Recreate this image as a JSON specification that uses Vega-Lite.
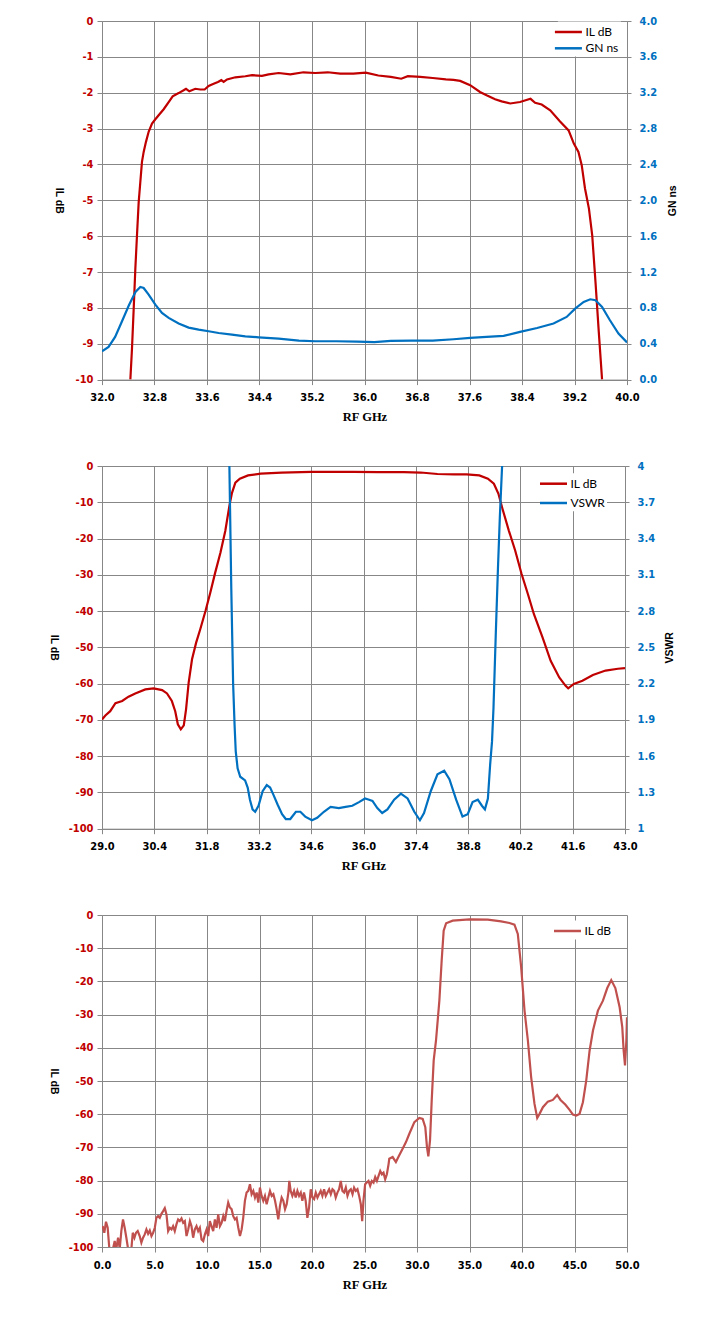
{
  "$schema": "https://vega.github.io/schema/vega-lite/v6.json",
  "background": "white",
  "padding": {"left": 47, "top": 15, "right": 5, "bottom": 5},
  "config": {
    "view": {"stroke": null},
    "locale": {"number": {"decimal": ".", "thousands": ",", "grouping": [3], "currency": ["$", ""], "minus": "-"}},
    "axis": {
      "gridColor": "#878787", "gridWidth": 1, "domainColor": "#878787", "tickColor": "#878787", "tickSize": 5,
      "labelFont": "DejaVu Sans Condensed", "labelFontWeight": "bold", "labelFontSize": 11,
      "titleFont": "Liberation Sans", "titleFontWeight": "bold", "titleFontSize": 10.5, "titleColor": "black"
    },
    "axisX": {"labelColor": "black", "labelPadding": 7, "labelFlush": false, "labelOverlap": false,
      "titleFont": "Liberation Serif", "titleFontSize": 12.5, "titleBaseline": "middle", "titleY": 37},
    "axisLeft": {"labelColor": "#C00000", "labelPadding": 4, "titleAngle": 90, "titleBaseline": "middle", "titleAlign": "center"},
    "axisRight": {"labelColor": "#0070C0", "labelPadding": 8, "tickSize": 4, "grid": false, "titleAngle": 270, "titleBaseline": "middle", "titleAlign": "center"},
    "legend": {
      "orient": "none", "title": null, "fillColor": "white", "padding": 2,
      "symbolType": "M-1.93,0H1.93", "symbolSize": 196, "symbolStrokeWidth": 2.5,
      "labelFont": "Lato", "labelFontSize": 12, "labelColor": "black", "labelOffset": 8.5
    }
  },
  "datasets": {
    "il1": [
      {"f": 32.432, "v": -10}, {"f": 32.457, "v": -9.14}, {"f": 32.483, "v": -8.02}, {"f": 32.508, "v": -6.91},
      {"f": 32.533, "v": -5.98}, {"f": 32.559, "v": -5.05}, {"f": 32.584, "v": -4.49}, {"f": 32.609, "v": -3.93},
      {"f": 32.635, "v": -3.65}, {"f": 32.67, "v": -3.37}, {"f": 32.711, "v": -3.09}, {"f": 32.762, "v": -2.86},
      {"f": 32.813, "v": -2.74}, {"f": 32.863, "v": -2.63}, {"f": 32.94, "v": -2.46}, {"f": 33.016, "v": -2.26},
      {"f": 33.077, "v": -2.1}, {"f": 33.168, "v": -2.01}, {"f": 33.244, "v": -1.93}, {"f": 33.28, "v": -1.89},
      {"f": 33.331, "v": -1.96}, {"f": 33.422, "v": -1.89}, {"f": 33.498, "v": -1.91}, {"f": 33.564, "v": -1.91},
      {"f": 33.625, "v": -1.81}, {"f": 33.701, "v": -1.75}, {"f": 33.767, "v": -1.7}, {"f": 33.818, "v": -1.65},
      {"f": 33.854, "v": -1.7}, {"f": 33.905, "v": -1.63}, {"f": 34.032, "v": -1.57}, {"f": 34.184, "v": -1.54},
      {"f": 34.286, "v": -1.51}, {"f": 34.438, "v": -1.53}, {"f": 34.539, "v": -1.49}, {"f": 34.692, "v": -1.45},
      {"f": 34.87, "v": -1.49}, {"f": 35.07, "v": -1.43}, {"f": 35.25, "v": -1.45}, {"f": 35.44, "v": -1.43},
      {"f": 35.63, "v": -1.47}, {"f": 35.83, "v": -1.47}, {"f": 36.02, "v": -1.44}, {"f": 36.21, "v": -1.52},
      {"f": 36.4, "v": -1.56}, {"f": 36.56, "v": -1.61}, {"f": 36.66, "v": -1.54}, {"f": 36.85, "v": -1.56},
      {"f": 37.04, "v": -1.59}, {"f": 37.24, "v": -1.63}, {"f": 37.356, "v": -1.64}, {"f": 37.458, "v": -1.67},
      {"f": 37.61, "v": -1.79}, {"f": 37.76, "v": -1.98}, {"f": 37.86, "v": -2.07}, {"f": 37.99, "v": -2.18},
      {"f": 38.09, "v": -2.24}, {"f": 38.22, "v": -2.3}, {"f": 38.37, "v": -2.26}, {"f": 38.53, "v": -2.17},
      {"f": 38.6, "v": -2.28}, {"f": 38.7, "v": -2.33}, {"f": 38.83, "v": -2.49}, {"f": 38.98, "v": -2.8},
      {"f": 39.11, "v": -3.05}, {"f": 39.19, "v": -3.42}, {"f": 39.26, "v": -3.65}, {"f": 39.31, "v": -4.02},
      {"f": 39.36, "v": -4.67}, {"f": 39.42, "v": -5.23}, {"f": 39.47, "v": -5.98}, {"f": 39.52, "v": -7.28},
      {"f": 39.57, "v": -8.67}, {"f": 39.62, "v": -10}
    ],
    "gn1": [
      {"f": 32.0, "v": 0.316}, {"f": 32.1, "v": 0.364}, {"f": 32.2, "v": 0.476}, {"f": 32.3, "v": 0.643},
      {"f": 32.41, "v": 0.829}, {"f": 32.51, "v": 0.978}, {"f": 32.584, "v": 1.033}, {"f": 32.635, "v": 1.022},
      {"f": 32.711, "v": 0.948}, {"f": 32.813, "v": 0.836}, {"f": 32.914, "v": 0.743}, {"f": 33.016, "v": 0.688},
      {"f": 33.168, "v": 0.625}, {"f": 33.32, "v": 0.58}, {"f": 33.473, "v": 0.558}, {"f": 33.625, "v": 0.539},
      {"f": 33.777, "v": 0.52}, {"f": 33.98, "v": 0.502}, {"f": 34.184, "v": 0.483}, {"f": 34.387, "v": 0.472},
      {"f": 34.692, "v": 0.457}, {"f": 35.0, "v": 0.435}, {"f": 35.25, "v": 0.428}, {"f": 35.57, "v": 0.428},
      {"f": 35.89, "v": 0.424}, {"f": 36.15, "v": 0.417}, {"f": 36.4, "v": 0.432}, {"f": 36.72, "v": 0.435},
      {"f": 37.04, "v": 0.435}, {"f": 37.356, "v": 0.45}, {"f": 37.61, "v": 0.465}, {"f": 37.86, "v": 0.476},
      {"f": 38.12, "v": 0.487}, {"f": 38.37, "v": 0.532}, {"f": 38.63, "v": 0.576}, {"f": 38.88, "v": 0.625},
      {"f": 39.08, "v": 0.699}, {"f": 39.21, "v": 0.792}, {"f": 39.34, "v": 0.866}, {"f": 39.44, "v": 0.896},
      {"f": 39.52, "v": 0.885}, {"f": 39.62, "v": 0.81}, {"f": 39.74, "v": 0.662}, {"f": 39.87, "v": 0.513},
      {"f": 40.0, "v": 0.415}
    ],
    "il2": [
      {"f": 29.0, "v": -69.9}, {"f": 29.09, "v": -68.8}, {"f": 29.22, "v": -67.6}, {"f": 29.36, "v": -65.4},
      {"f": 29.54, "v": -64.8}, {"f": 29.71, "v": -63.6}, {"f": 29.89, "v": -62.7}, {"f": 30.16, "v": -61.6},
      {"f": 30.38, "v": -61.3}, {"f": 30.61, "v": -61.8}, {"f": 30.74, "v": -62.7}, {"f": 30.87, "v": -64.8},
      {"f": 30.96, "v": -67.6}, {"f": 31.03, "v": -71.2}, {"f": 31.11, "v": -72.6}, {"f": 31.19, "v": -71.5},
      {"f": 31.25, "v": -67.1}, {"f": 31.32, "v": -59.7}, {"f": 31.41, "v": -53.3}, {"f": 31.52, "v": -48.7},
      {"f": 31.63, "v": -45.0}, {"f": 31.77, "v": -40.0}, {"f": 31.9, "v": -34.9}, {"f": 32.03, "v": -29.4},
      {"f": 32.17, "v": -23.9}, {"f": 32.3, "v": -17.9}, {"f": 32.41, "v": -11.0}, {"f": 32.48, "v": -7.4},
      {"f": 32.57, "v": -4.6}, {"f": 32.69, "v": -3.5}, {"f": 32.91, "v": -2.6}, {"f": 33.25, "v": -2.1},
      {"f": 33.81, "v": -1.8}, {"f": 34.6, "v": -1.6}, {"f": 35.73, "v": -1.6}, {"f": 36.4, "v": -1.7},
      {"f": 37.08, "v": -1.7}, {"f": 37.53, "v": -1.8}, {"f": 37.98, "v": -2.2}, {"f": 38.43, "v": -2.3},
      {"f": 38.76, "v": -2.3}, {"f": 39.1, "v": -2.6}, {"f": 39.33, "v": -3.5}, {"f": 39.49, "v": -4.9},
      {"f": 39.61, "v": -7.6}, {"f": 39.72, "v": -11.8}, {"f": 39.89, "v": -17.8}, {"f": 40.06, "v": -23.3},
      {"f": 40.23, "v": -29.7}, {"f": 40.4, "v": -35.3}, {"f": 40.56, "v": -40.8}, {"f": 40.79, "v": -47.2},
      {"f": 41.01, "v": -53.7}, {"f": 41.24, "v": -58.3}, {"f": 41.41, "v": -60.6}, {"f": 41.48, "v": -61.3},
      {"f": 41.63, "v": -60.1}, {"f": 41.86, "v": -59.2}, {"f": 42.14, "v": -57.6}, {"f": 42.48, "v": -56.4},
      {"f": 42.81, "v": -55.9}, {"f": 43.0, "v": -55.7}
    ],
    "vswr2": [
      {"f": 32.38, "v": 4.3}, {"f": 32.41, "v": 4.0}, {"f": 32.46, "v": 3.0}, {"f": 32.51, "v": 2.2},
      {"f": 32.55, "v": 1.85}, {"f": 32.58, "v": 1.64}, {"f": 32.63, "v": 1.5}, {"f": 32.7, "v": 1.43},
      {"f": 32.83, "v": 1.4}, {"f": 32.9, "v": 1.34}, {"f": 32.96, "v": 1.24}, {"f": 33.03, "v": 1.16},
      {"f": 33.1, "v": 1.14}, {"f": 33.19, "v": 1.19}, {"f": 33.3, "v": 1.31}, {"f": 33.41, "v": 1.36},
      {"f": 33.5, "v": 1.34}, {"f": 33.59, "v": 1.28}, {"f": 33.7, "v": 1.2}, {"f": 33.82, "v": 1.12},
      {"f": 33.92, "v": 1.08}, {"f": 34.04, "v": 1.08}, {"f": 34.19, "v": 1.14}, {"f": 34.31, "v": 1.14},
      {"f": 34.44, "v": 1.1}, {"f": 34.62, "v": 1.07}, {"f": 34.76, "v": 1.09}, {"f": 34.94, "v": 1.14},
      {"f": 35.12, "v": 1.18}, {"f": 35.34, "v": 1.17}, {"f": 35.52, "v": 1.18}, {"f": 35.7, "v": 1.19},
      {"f": 35.88, "v": 1.22}, {"f": 36.04, "v": 1.25}, {"f": 36.15, "v": 1.24}, {"f": 36.24, "v": 1.23},
      {"f": 36.37, "v": 1.17}, {"f": 36.5, "v": 1.13}, {"f": 36.64, "v": 1.16}, {"f": 36.82, "v": 1.24},
      {"f": 37.0, "v": 1.29}, {"f": 37.18, "v": 1.25}, {"f": 37.36, "v": 1.14}, {"f": 37.51, "v": 1.07},
      {"f": 37.62, "v": 1.13}, {"f": 37.8, "v": 1.31}, {"f": 37.98, "v": 1.45}, {"f": 38.16, "v": 1.48},
      {"f": 38.3, "v": 1.41}, {"f": 38.48, "v": 1.24}, {"f": 38.65, "v": 1.1}, {"f": 38.79, "v": 1.12},
      {"f": 38.92, "v": 1.22}, {"f": 39.06, "v": 1.24}, {"f": 39.17, "v": 1.19}, {"f": 39.25, "v": 1.16},
      {"f": 39.33, "v": 1.25}, {"f": 39.39, "v": 1.53}, {"f": 39.44, "v": 1.72}, {"f": 39.48, "v": 2.0},
      {"f": 39.54, "v": 2.6}, {"f": 39.6, "v": 3.16}, {"f": 39.65, "v": 3.58}, {"f": 39.71, "v": 4.0},
      {"f": 39.75, "v": 4.3}
    ],
    "il3": [
      {"f": 0.06, "v": -93.7}, {"f": 0.22, "v": -95.7}, {"f": 0.38, "v": -92.4}, {"f": 0.54, "v": -94.2},
      {"f": 0.7, "v": -100.5}, {"f": 0.89, "v": -101}, {"f": 1.05, "v": -100.5}, {"f": 1.21, "v": -98.2},
      {"f": 1.34, "v": -101}, {"f": 1.53, "v": -97.2}, {"f": 1.69, "v": -100.5}, {"f": 1.84, "v": -95.2},
      {"f": 2.0, "v": -91.7}, {"f": 2.16, "v": -94.2}, {"f": 2.32, "v": -97.2}, {"f": 2.48, "v": -100.5},
      {"f": 2.64, "v": -101}, {"f": 2.8, "v": -100.5}, {"f": 2.93, "v": -95.7}, {"f": 3.09, "v": -97.2},
      {"f": 3.24, "v": -95.7}, {"f": 3.4, "v": -95.2}, {"f": 3.59, "v": -96.7}, {"f": 3.75, "v": -98.7},
      {"f": 3.91, "v": -97.2}, {"f": 4.07, "v": -96.2}, {"f": 4.23, "v": -94.7}, {"f": 4.39, "v": -96},
      {"f": 4.55, "v": -95}, {"f": 4.71, "v": -96.7}, {"f": 4.87, "v": -95.7}, {"f": 5.03, "v": -94.2},
      {"f": 5.18, "v": -91.2}, {"f": 5.34, "v": -90.7}, {"f": 5.5, "v": -91.2}, {"f": 5.66, "v": -90},
      {"f": 5.82, "v": -89.2}, {"f": 5.98, "v": -88.3}, {"f": 6.14, "v": -90.2}, {"f": 6.3, "v": -95.2},
      {"f": 6.46, "v": -94.2}, {"f": 6.62, "v": -94.7}, {"f": 6.77, "v": -93.7}, {"f": 6.93, "v": -95.2},
      {"f": 7.09, "v": -93.2}, {"f": 7.25, "v": -91.7}, {"f": 7.41, "v": -92.2}, {"f": 7.57, "v": -91.4},
      {"f": 7.73, "v": -92.7}, {"f": 7.89, "v": -92.2}, {"f": 8.05, "v": -96.7}, {"f": 8.21, "v": -94.7},
      {"f": 8.37, "v": -92.2}, {"f": 8.52, "v": -93.7}, {"f": 8.68, "v": -97.2}, {"f": 8.84, "v": -94.7},
      {"f": 9.0, "v": -93.7}, {"f": 9.16, "v": -95.2}, {"f": 9.32, "v": -94.2}, {"f": 9.48, "v": -97.7},
      {"f": 9.64, "v": -98.2}, {"f": 9.8, "v": -96.2}, {"f": 9.96, "v": -94.7}, {"f": 10.11, "v": -96.7},
      {"f": 10.27, "v": -92.2}, {"f": 10.43, "v": -93.7}, {"f": 10.59, "v": -95.2}, {"f": 10.75, "v": -91.7},
      {"f": 10.91, "v": -94.2}, {"f": 11.07, "v": -90.2}, {"f": 11.23, "v": -93.7}, {"f": 11.39, "v": -92.7},
      {"f": 11.55, "v": -90.7}, {"f": 11.7, "v": -92.2}, {"f": 11.86, "v": -89.2}, {"f": 12.02, "v": -86.6},
      {"f": 12.18, "v": -88.1}, {"f": 12.34, "v": -88.6}, {"f": 12.5, "v": -90.7}, {"f": 12.66, "v": -91.7},
      {"f": 12.82, "v": -91.2}, {"f": 12.98, "v": -94.2}, {"f": 13.14, "v": -96.7}, {"f": 13.3, "v": -94.7},
      {"f": 13.45, "v": -91.2}, {"f": 13.61, "v": -86.1}, {"f": 13.77, "v": -83.6}, {"f": 13.93, "v": -83.1},
      {"f": 14.09, "v": -81.1}, {"f": 14.25, "v": -84.1}, {"f": 14.41, "v": -83.1}, {"f": 14.57, "v": -85.1},
      {"f": 14.73, "v": -83.6}, {"f": 14.89, "v": -86.6}, {"f": 15.04, "v": -82.1}, {"f": 15.2, "v": -84.6},
      {"f": 15.36, "v": -86.1}, {"f": 15.52, "v": -84.6}, {"f": 15.68, "v": -87.1}, {"f": 15.84, "v": -85.1},
      {"f": 16.0, "v": -83.1}, {"f": 16.16, "v": -84.6}, {"f": 16.32, "v": -84.1}, {"f": 16.48, "v": -86.1},
      {"f": 16.63, "v": -88.6}, {"f": 16.79, "v": -91.7}, {"f": 16.95, "v": -87.6}, {"f": 17.11, "v": -85.1},
      {"f": 17.27, "v": -86.1}, {"f": 17.43, "v": -88.6}, {"f": 17.59, "v": -87.1}, {"f": 17.75, "v": -83.6},
      {"f": 17.84, "v": -80.1}, {"f": 17.97, "v": -83.1}, {"f": 18.13, "v": -84.6}, {"f": 18.29, "v": -83.1},
      {"f": 18.45, "v": -85.1}, {"f": 18.61, "v": -83.1}, {"f": 18.77, "v": -84.6}, {"f": 18.93, "v": -83.6},
      {"f": 19.08, "v": -86.1}, {"f": 19.24, "v": -83.6}, {"f": 19.4, "v": -86.1}, {"f": 19.56, "v": -91.2},
      {"f": 19.72, "v": -88.1}, {"f": 19.88, "v": -82.6}, {"f": 20.04, "v": -85.1}, {"f": 20.2, "v": -85.6},
      {"f": 20.36, "v": -83.6}, {"f": 20.52, "v": -85.1}, {"f": 20.67, "v": -84.1}, {"f": 20.83, "v": -83.1},
      {"f": 20.99, "v": -84.6}, {"f": 21.15, "v": -82.6}, {"f": 21.31, "v": -84.6}, {"f": 21.47, "v": -83.6},
      {"f": 21.63, "v": -82.6}, {"f": 21.79, "v": -84.1}, {"f": 21.95, "v": -82.6}, {"f": 22.11, "v": -83.1},
      {"f": 22.26, "v": -85.1}, {"f": 22.42, "v": -83.6}, {"f": 22.58, "v": -82.6}, {"f": 22.74, "v": -80.1},
      {"f": 22.9, "v": -83.1}, {"f": 23.06, "v": -83.6}, {"f": 23.22, "v": -82.1}, {"f": 23.38, "v": -84.6},
      {"f": 23.54, "v": -83.1}, {"f": 23.7, "v": -82.6}, {"f": 23.86, "v": -84.1}, {"f": 24.01, "v": -82.1},
      {"f": 24.17, "v": -83.1}, {"f": 24.33, "v": -82.6}, {"f": 24.49, "v": -84.6}, {"f": 24.65, "v": -87.1},
      {"f": 24.78, "v": -92.2}, {"f": 24.9, "v": -86.1}, {"f": 25.06, "v": -81.1}, {"f": 25.22, "v": -80.6},
      {"f": 25.38, "v": -80.1}, {"f": 25.54, "v": -81.6}, {"f": 25.7, "v": -80.1}, {"f": 25.86, "v": -80.6},
      {"f": 26.02, "v": -78.9}, {"f": 26.18, "v": -80.1}, {"f": 26.34, "v": -78.6}, {"f": 26.5, "v": -77.1},
      {"f": 26.66, "v": -78.1}, {"f": 26.81, "v": -77.6}, {"f": 26.97, "v": -79.6}, {"f": 27.13, "v": -78.1},
      {"f": 27.29, "v": -75.1}, {"f": 27.36, "v": -73.4}, {"f": 27.68, "v": -72.9}, {"f": 27.99, "v": -74.4},
      {"f": 28.31, "v": -72.4}, {"f": 28.63, "v": -70.4}, {"f": 28.95, "v": -68.4}, {"f": 29.27, "v": -65.9},
      {"f": 29.75, "v": -62.4}, {"f": 30.22, "v": -61.1}, {"f": 30.54, "v": -61.4}, {"f": 30.79, "v": -63.9},
      {"f": 30.95, "v": -69.9}, {"f": 31.08, "v": -72.7}, {"f": 31.24, "v": -67.9}, {"f": 31.4, "v": -55.9},
      {"f": 31.59, "v": -43.8}, {"f": 31.81, "v": -37.8}, {"f": 32.13, "v": -25.8}, {"f": 32.35, "v": -13.7},
      {"f": 32.54, "v": -4.7}, {"f": 32.77, "v": -2.5}, {"f": 33.4, "v": -1.7}, {"f": 34.99, "v": -1.3},
      {"f": 36.74, "v": -1.4}, {"f": 38.01, "v": -1.9}, {"f": 38.81, "v": -2.4}, {"f": 39.28, "v": -2.9},
      {"f": 39.6, "v": -5.7}, {"f": 39.92, "v": -15.7}, {"f": 40.24, "v": -28.8}, {"f": 40.56, "v": -37.8},
      {"f": 40.87, "v": -48.8}, {"f": 41.19, "v": -56.9}, {"f": 41.45, "v": -61.1}, {"f": 41.67, "v": -59.9},
      {"f": 41.99, "v": -57.9}, {"f": 42.46, "v": -56.2}, {"f": 42.94, "v": -55.7}, {"f": 43.35, "v": -54.2},
      {"f": 43.67, "v": -55.7}, {"f": 44.12, "v": -57.1}, {"f": 44.53, "v": -58.7}, {"f": 44.85, "v": -60.1},
      {"f": 45.17, "v": -60.4}, {"f": 45.48, "v": -59.9}, {"f": 45.8, "v": -56.4}, {"f": 46.12, "v": -49.8},
      {"f": 46.44, "v": -40.8}, {"f": 46.76, "v": -34.8}, {"f": 47.23, "v": -28.8}, {"f": 47.71, "v": -25.8},
      {"f": 48.12, "v": -22.0}, {"f": 48.5, "v": -19.6}, {"f": 48.89, "v": -22.0}, {"f": 49.3, "v": -27.8},
      {"f": 49.55, "v": -33.8}, {"f": 49.68, "v": -40.8}, {"f": 49.81, "v": -45.3}, {"f": 49.94, "v": -37.8},
      {"f": 50.0, "v": -30.8}
    ]
  },
  "vconcat": [
    {
      "width": 525,
      "height": 358.6,
      "encoding": {
        "x": {"field": "f", "type": "quantitative", "title": "RF GHz",
          "scale": {"domain": [32, 40], "nice": false, "zero": false},
          "axis": {"values": [32, 32.8, 33.6, 34.4, 35.2, 36, 36.8, 37.6, 38.4, 39.2, 40], "format": ".1f", "titleX": 262.5}}
      },
      "layer": [
        {
          "data": {"name": "il1"},
          "mark": {"type": "line", "strokeWidth": 2.2, "clip": true},
          "encoding": {
            "y": {"field": "v", "type": "quantitative", "title": "IL dB",
              "scale": {"domain": [-10, 0], "nice": false},
              "axis": {"orient": "left", "values": [-10, -9, -8, -7, -6, -5, -4, -3, -2, -1, 0], "format": "d", "titleX": -43.5, "titleY": 179.3}},
            "color": {"datum": "IL dB", "scale": {"domain": ["IL dB", "GN ns"], "range": ["#C00000", "#0070C0"]},
              "legend": {"legendX": 455.9, "legendY": 0.5, "rowPadding": 1.3}}
          }
        },
        {
          "data": {"name": "gn1"},
          "mark": {"type": "line", "strokeWidth": 2.2, "clip": true},
          "encoding": {
            "y": {"field": "v", "type": "quantitative", "title": "GN ns",
              "scale": {"domain": [0, 4], "nice": false, "zero": false},
              "axis": {"orient": "right", "values": [0, 0.4, 0.8, 1.2, 1.6, 2, 2.4, 2.8, 3.2, 3.6, 4], "format": ".1f", "titleX": 45.8, "titleY": 179.3}},
            "color": {"datum": "GN ns"}
          }
        }
      ],
      "resolve": {"scale": {"y": "independent"}}
    },
    {
      "width": 523,
      "height": 362.7,
      "encoding": {
        "x": {"field": "f", "type": "quantitative", "title": "RF GHz",
          "scale": {"domain": [29, 43], "nice": false, "zero": false},
          "axis": {"values": [29, 30.4, 31.8, 33.2, 34.6, 36, 37.4, 38.8, 40.2, 41.6, 43], "format": ".1f", "titleX": 261.5}}
      },
      "layer": [
        {
          "data": {"name": "il2"},
          "mark": {"type": "line", "strokeWidth": 2.2, "clip": true},
          "encoding": {
            "y": {"field": "v", "type": "quantitative", "title": "IL dB",
              "scale": {"domain": [-100, 0], "nice": false},
              "axis": {"orient": "left", "values": [-100, -90, -80, -70, -60, -50, -40, -30, -20, -10, 0], "format": "d", "titleX": -48.3, "titleY": 181.3}},
            "color": {"datum": "IL dB", "scale": {"domain": ["IL dB", "VSWR"], "range": ["#C00000", "#0070C0"]},
              "legend": {"legendX": 441, "legendY": 7.2, "rowPadding": 4.3}}
          }
        },
        {
          "data": {"name": "vswr2"},
          "mark": {"type": "line", "strokeWidth": 2.2, "clip": true},
          "encoding": {
            "y": {"field": "v", "type": "quantitative", "title": "VSWR",
              "scale": {"domain": [1, 4], "nice": false, "zero": false},
              "axis": {"orient": "right", "values": [1, 1.3, 1.6, 1.9, 2.2, 2.5, 2.8, 3.1, 3.4, 3.7, 4], "format": ".1~f", "titleX": 44, "titleY": 181.3}},
            "color": {"datum": "VSWR"}
          }
        }
      ],
      "resolve": {"scale": {"y": "independent"}}
    },
    {
      "width": 525,
      "height": 332,
      "data": {"name": "il3"},
      "mark": {"type": "line", "strokeWidth": 2.2, "clip": true},
      "encoding": {
        "x": {"field": "f", "type": "quantitative", "title": "RF GHz",
          "scale": {"domain": [0, 50], "nice": false, "zero": false},
          "axis": {"values": [0, 5, 10, 15, 20, 25, 30, 35, 40, 45, 50], "format": ".1f", "titleX": 262.5}},
        "y": {"field": "v", "type": "quantitative", "title": "IL dB",
          "scale": {"domain": [-100, 0], "nice": false},
          "axis": {"orient": "left", "values": [-100, -90, -80, -70, -60, -50, -40, -30, -20, -10, 0], "format": "d", "titleX": -49, "titleY": 166}},
        "color": {"datum": "IL dB", "scale": {"domain": ["IL dB"], "range": ["#C0504D"]},
          "legend": {"legendX": 455, "legendY": 5.5}}
      }
    }
  ],
  "spacing": 36,
  "resolve": {"scale": {"color": "independent"}, "legend": {"color": "independent"}}
}
